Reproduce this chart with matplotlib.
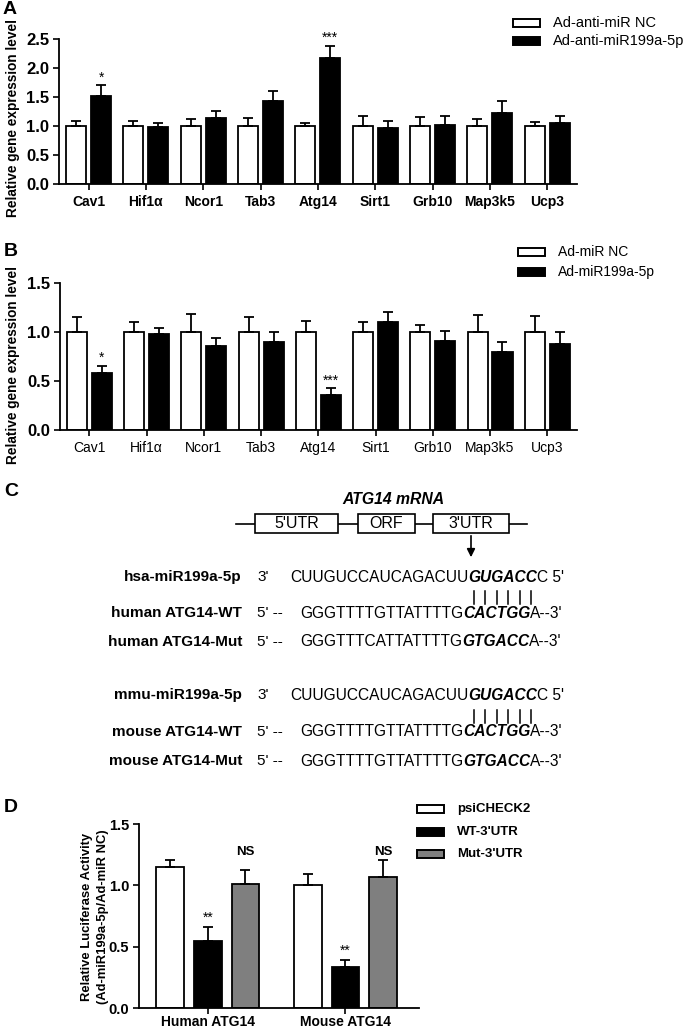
import matplotlib
matplotlib.use("Agg")
import matplotlib.pyplot as plt
import numpy as np
from matplotlib.patches import Rectangle

W, H = 685, 1030
SANS = ["Liberation Sans", "DejaVu Sans"]
plt.rcParams["font.family"] = SANS

# panel A: anti-miR knockdown
genes = ["Cav1", "Hif1α", "Ncor1", "Tab3", "Atg14", "Sirt1", "Grb10", "Map3k5", "Ucp3"]
a_nc = [1.0, 1.0, 1.0, 1.0, 1.0, 1.0, 1.0, 1.0, 1.0]
a_nc_err = [0.09, 0.09, 0.115, 0.13, 0.06, 0.18, 0.15, 0.12, 0.07]
a_anti = [1.51, 0.99, 1.13, 1.43, 2.18, 0.97, 1.01, 1.22, 1.06]
a_anti_err = [0.19, 0.07, 0.13, 0.17, 0.20, 0.12, 0.16, 0.21, 0.12]
a_marks = ["*", "", "", "", "***", "", "", "", ""]
a_legend = ["Ad-anti-miR NC", "Ad-anti-miR199a-5p"]

# panel B: miR overexpression
b_nc = [1.0, 1.0, 1.0, 1.0, 1.0, 1.0, 1.0, 1.0, 1.0]
b_nc_err = [0.15, 0.10, 0.18, 0.15, 0.115, 0.10, 0.07, 0.17, 0.16]
b_mir = [0.58, 0.98, 0.86, 0.90, 0.36, 1.10, 0.91, 0.80, 0.875]
b_mir_err = [0.075, 0.06, 0.075, 0.10, 0.065, 0.10, 0.10, 0.095, 0.12]
b_marks = ["*", "", "", "", "***", "", "", "", ""]
b_legend = ["Ad-miR NC", "Ad-miR199a-5p"]

# panel D: luciferase reporter
d_groups = ["Human ATG14", "Mouse ATG14"]
d_psi = [1.15, 1.00]
d_psi_err = [0.06, 0.09]
d_wt = [0.545, 0.335]
d_wt_err = [0.115, 0.06]
d_mut = [1.01, 1.07]
d_mut_err = [0.115, 0.14]
d_wt_marks = ["**", "**"]
d_mut_marks = ["NS", "NS"]
d_legend = ["psiCHECK2", "WT-3'UTR", "Mut-3'UTR"]

# panel C: sequence alignment (text, bold-italic flag)
c_names = ["hsa-miR199a-5p", "human ATG14-WT", "human ATG14-Mut",
           "mmu-miR199a-5p", "mouse ATG14-WT", "mouse ATG14-Mut"]
c_ends = ["3'", "5' --", "5' --", "3'", "5' --", "5' --"]
c_seqs = [
    [("CUUGUCCAUCAGACUU", False), ("GUGACC", True), ("C 5'", False)],
    [("GGGTTTTGTTATTTTG", False), ("CACTGG", True), ("A--3'", False)],
    [("GGGTTTCATTATTTTG", False), ("GTGACC", True), ("A--3'", False)],
    [("CUUGUCCAUCAGACUU", False), ("GUGACC", True), ("C 5'", False)],
    [("GGGTTTTGTTATTTTG", False), ("CACTGG", True), ("A--3'", False)],
    [("GGGTTTTGTTATTTTG", False), ("GTGACC", True), ("A--3'", False)],
]
c_rows_y = [577, 613, 642, 695, 732, 761]
c_seq_x = [290, 300, 300, 290, 300, 300]
mrna_parts = ["5'UTR", "ORF", "3'UTR"]

fig = plt.figure(figsize=(W / 100, H / 100), dpi=100)
fig.patch.set_facecolor("white")

# pixel-space overlay for letters, legends, labels and panel C; kept on top
ov = fig.add_axes([0, 0, 1, 1])
ov.set_xlim(0, W)
ov.set_ylim(H, 0)
ov.axis("off")
ov.set_zorder(10)
ov.patch.set_visible(False)


def px_axes(l, t, r, b):
    ax = fig.add_axes([l / W, 1 - b / H, (r - l) / W, (b - t) / H])
    ax.patch.set_visible(False)
    return ax


def style_axes(ax, ysize=12):
    for s in ["top", "right"]:
        ax.spines[s].set_visible(False)
    for s in ["left", "bottom"]:
        ax.spines[s].set_linewidth(1.3)
    ax.tick_params(axis="both", length=4, width=1.2, direction="out")
    ax.tick_params(axis="y", labelsize=ysize, pad=3)
    for lab in ax.get_yticklabels():
        lab.set_fontweight("bold")


def bars_with_err(ax, x, vals, errs, width, color):
    ax.bar(x, vals, width, color=color, edgecolor="black", linewidth=1.3, zorder=2)
    ax.errorbar(x, vals, yerr=[np.zeros(len(vals)), errs], fmt="none", ecolor="black",
                elinewidth=1.3, capsize=3.8, capthick=1.3, zorder=3)


def gene_panel(box, nc, nc_err, tr, tr_err, marks, ymax, xlab_bold, xlab_size):
    ax = px_axes(*box)
    x = np.arange(len(genes))
    bars_with_err(ax, x - 0.218, nc, nc_err, 0.35, "white")
    bars_with_err(ax, x + 0.218, tr, tr_err, 0.35, "black")
    for i, m in enumerate(marks):
        if m:
            ax.annotate(m, (x[i] + 0.218, tr[i] + tr_err[i]), xytext=(0, 8),
                        textcoords="offset pixels", ha="center", va="center", fontsize=10)
    ax.set_xlim(-0.515, len(genes) - 1 + 0.52)
    ax.set_ylim(0, ymax)
    ax.set_yticks(np.arange(0, ymax + 0.01, 0.5))
    ax.set_yticklabels([f"{v:.1f}" for v in np.arange(0, ymax + 0.01, 0.5)])
    ax.set_xticks(x)
    ax.set_xticklabels(genes, fontsize=xlab_size, fontweight="bold" if xlab_bold else "normal")
    style_axes(ax)
    ax.tick_params(axis="x", pad=4)
    return ax


gene_panel((59, 39, 577, 184), a_nc, a_nc_err, a_anti, a_anti_err, a_marks, 2.5, True, 10)
gene_panel((60, 283, 577, 430), b_nc, b_nc_err, b_mir, b_mir_err, b_marks, 1.5, False, 10)


def legend(x0, ys, labels, colors, size, weight):
    for y, lab, col in zip(ys, labels, colors):
        ov.add_patch(Rectangle((x0, y - 4), 27, 8, facecolor=col, edgecolor="black", lw=1.4))
        ov.text(x0 + 40, y, lab, fontsize=size, fontweight=weight, va="center", ha="left")


legend(513, [23, 41], a_legend, ["white", "black"], 10.5, "normal")
legend(518, [252, 272], b_legend, ["white", "black"], 10, "normal")

# panel letters and y labels
for letter, (lx, ly) in zip("ABCD", [(3, 10), (4, 252), (4, 492), (4, 808)]):
    ov.text(lx, ly, letter, fontsize=14, fontweight="bold", va="center", ha="left")
ov.text(13, 118, "Relative gene expression level", rotation=90, ha="center", va="center",
        fontsize=9.8, fontweight="bold")
ov.text(13, 365, "Relative gene expression level", rotation=90, ha="center", va="center",
        fontsize=9.8, fontweight="bold")

# panel C
ov.text(393, 499, "ATG14 mRNA", fontsize=11.3, fontweight="bold", fontstyle="italic",
        ha="center", va="center")
ov.plot([236, 527], [523.5, 523.5], color="black", lw=1.2, zorder=1)
part_x = [(255, 338), (358, 415), (433, 509)]
for (l, r), lab in zip(part_x, mrna_parts):
    ov.add_patch(Rectangle((l, 514), r - l, 19, facecolor="white", edgecolor="black", lw=1.2, zorder=2))
    ov.text((l + r) / 2, 524, lab, fontsize=11.5, ha="center", va="center", zorder=3)
ov.annotate("", xy=(471, 560), xytext=(471, 533),
            arrowprops=dict(arrowstyle="-|>", color="black", lw=1.2, mutation_scale=12))

renderer = fig.canvas.get_renderer()
inv = ov.transData.inverted()
bold_spans = []
for name, end, pieces, y, sx in zip(c_names, c_ends, c_seqs, c_rows_y, c_seq_x):
    ov.text(242, y, name, fontsize=11, fontweight="bold", ha="right", va="center")
    ov.text(257, y, end, fontsize=11, ha="left", va="center")
    x = sx
    span = None
    for s, bi in pieces:
        t = ov.text(x, y, s, fontsize=11.2, va="center", ha="left",
                    fontweight="bold" if bi else "normal",
                    fontstyle="italic" if bi else "normal")
        bb = t.get_window_extent(renderer=renderer)
        x1 = inv.transform((bb.x1, bb.y0))[0]
        if bi:
            span = (x, x1)
        x = x1
    bold_spans.append(span)

# base-pairing ticks under each miRNA seed
for row, yb in [(0, 597), (3, 716)]:
    l, r = bold_spans[row]
    step = (r - l) / 6
    for k in range(6):
        xc = l + (k + 0.5) * step
        ov.plot([xc, xc], [yb - 6.5, yb + 6.5], color="black", lw=1.1)

# panel D
axd = px_axes(139, 824, 419, 1008)
xd = np.arange(len(d_groups))
bars_with_err(axd, xd - 0.273, d_psi, d_psi_err, 0.2, "white")
bars_with_err(axd, xd, d_wt, d_wt_err, 0.2, "black")
bars_with_err(axd, xd + 0.273, d_mut, d_mut_err, 0.2, "#7f7f7f")
for i in range(len(d_groups)):
    axd.annotate(d_wt_marks[i], (xd[i], d_wt[i] + d_wt_err[i]), xytext=(0, 9),
                 textcoords="offset pixels", ha="center", va="center", fontsize=10)
ns_y = max(m + e for m, e in zip(d_mut, d_mut_err)) + 0.06
for i in range(len(d_groups)):
    axd.text(xd[i] + 0.273, ns_y, d_mut_marks[i], ha="center", va="center",
             fontsize=9.5, fontweight="bold")
axd.set_xlim(-0.5, len(d_groups) - 1 + 0.535)
axd.set_ylim(0, 1.5)
axd.set_yticks([0, 0.5, 1.0, 1.5])
axd.set_yticklabels(["0.0", "0.5", "1.0", "1.5"])
axd.set_xticks(xd)
axd.set_xticklabels(d_groups, fontsize=10, fontweight="bold")
style_axes(axd, ysize=10.5)
axd.tick_params(axis="x", pad=1)
ov.text(95, 917, "Relative Luciferase Activity\n(Ad-miR199a-5p/Ad-miR NC)", rotation=90,
        ha="center", va="center", fontsize=9.4, fontweight="bold", linespacing=1.45)
legend(417, [809, 832, 854], d_legend, ["white", "black", "#7f7f7f"], 9.5, "bold")

fig.savefig("out.png", dpi=100, facecolor="white")
